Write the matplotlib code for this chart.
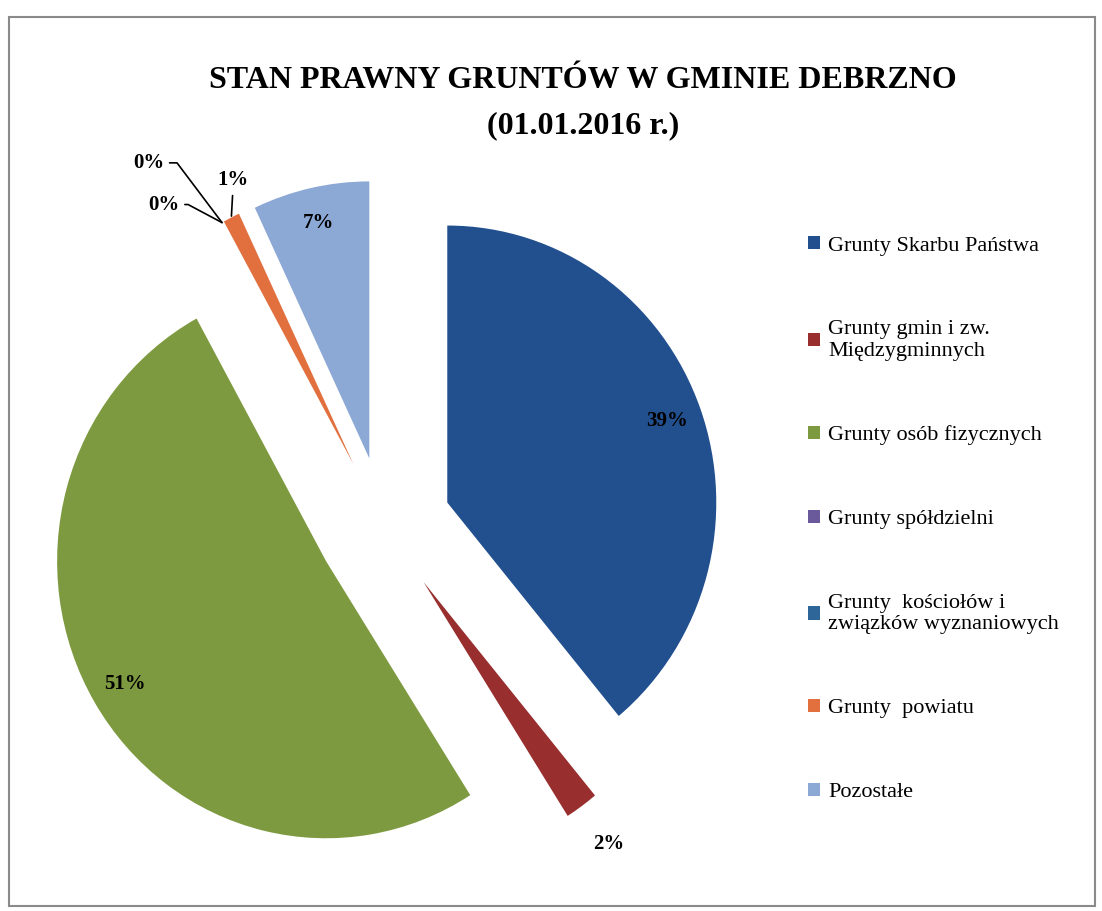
import numpy as np
import matplotlib
matplotlib.use("Agg")
import matplotlib.pyplot as plt
from matplotlib.patches import Rectangle

plt.rcParams['font.family'] = ['Liberation Serif', 'DejaVu Serif']

# ---- data ----
categories = [
    "Grunty Skarbu Państwa",
    "Grunty gmin i zw.\nMiędzygminnych",
    "Grunty osób fizycznych",
    "Grunty spółdzielni",
    "Grunty  kościołów i\nzwiązków wyznaniowych",
    "Grunty  powiatu",
    "Pozostałe",
]
shares = [39, 2, 51, 0, 0, 1, 7]
colors = ["#22508E", "#982E2E", "#7E9A40", "#6A5A9C", "#2E6699", "#E2703F", "#8CA8D5"]
title_lines = ["STAN PRAWNY GRUNTÓW W GMINIE DEBRZNO", "(01.01.2016 r.)"]

W, H = 1102, 911
fig = plt.figure(figsize=(W / 100, H / 100), dpi=100)
fig.patch.set_facecolor("white")

# outer chart frame
fig.patches.append(Rectangle((9 / W, 1 - 906 / H), (1095 - 9) / W, (906 - 17) / H,
                             transform=fig.transFigure, fill=False,
                             ec="#8a8a8a", lw=1.5))

ax = fig.add_axes([0, 0, 1, 1])
wedges, _ = ax.pie(shares, colors=colors, startangle=90, counterclock=False,
                   explode=[0.25] * len(shares), radius=1,
                   wedgeprops=dict(linewidth=0))

# pixel geometry of the pie: centre (384, 526), radii 269 px / 277 px
cx_px, cy_px, rx_px, ry_px = 384, 526, 269, 277
ax.set_xlim(-cx_px / rx_px, (W - cx_px) / rx_px)
ax.set_ylim(-(H - cy_px) / ry_px, cy_px / ry_px)
ax.set_aspect("auto")
ax.axis("off")

lab_kw = dict(fontsize=15, fontweight="bold", color="black", ha="center", va="center")

for i, w in enumerate(wedges):
    th = np.deg2rad((w.theta1 + w.theta2) / 2)
    cx, cy = w.center
    r = w.r
    txt = f"{shares[i]:.0f}%"
    if shares[i] >= 5:
        d = 0.87
        ax.text(cx + d * r * np.cos(th), cy + d * r * np.sin(th), txt, **lab_kw)
    elif shares[i] >= 2:
        d = 1.17
        ax.text(cx + d * r * np.cos(th), cy + d * r * np.sin(th), txt, **lab_kw)
    else:
        tip = (cx + r * np.cos(th), cy + r * np.sin(th))
        if i == 3:
            ax.annotate(txt, xy=tip, xytext=(-53, 43), textcoords="offset points",
                        arrowprops=dict(arrowstyle="-", color="black", lw=1.2,
                                        shrinkA=2, shrinkB=0,
                                        connectionstyle="angle,angleA=0,angleB=127,rad=0"),
                        **lab_kw)
        elif i == 4:
            ax.annotate(txt, xy=tip, xytext=(-42, 13), textcoords="offset points",
                        arrowprops=dict(arrowstyle="-", color="black", lw=1.2,
                                        shrinkA=2, shrinkB=0,
                                        connectionstyle="angle,angleA=0,angleB=152,rad=0"),
                        **lab_kw)
        else:
            ax.annotate(txt, xy=tip, xytext=(1.5, 27), textcoords="offset points",
                        arrowprops=dict(arrowstyle="-", color="black", lw=1.2,
                                        shrinkA=2, shrinkB=1),
                        **lab_kw)

# title
fig.text(583 / W, 1 - 81 / H, title_lines[0], ha="center", va="center",
         fontsize=23, fontweight="bold")
fig.text(583 / W, 1 - 126 / H, title_lines[1], ha="center", va="center",
         fontsize=23, fontweight="bold")

# legend
fig.legend(wedges, categories, loc="upper left",
           bbox_to_anchor=(808 / W, 1 - 236 / H), frameon=False,
           prop=dict(family=["Liberation Serif", "DejaVu Serif"], size=16),
           handlelength=0.55, handleheight=0.55, handletextpad=0.35,
           labelspacing=2.9, borderpad=0, borderaxespad=0)

fig.savefig("out.png", dpi=100, facecolor="white")
